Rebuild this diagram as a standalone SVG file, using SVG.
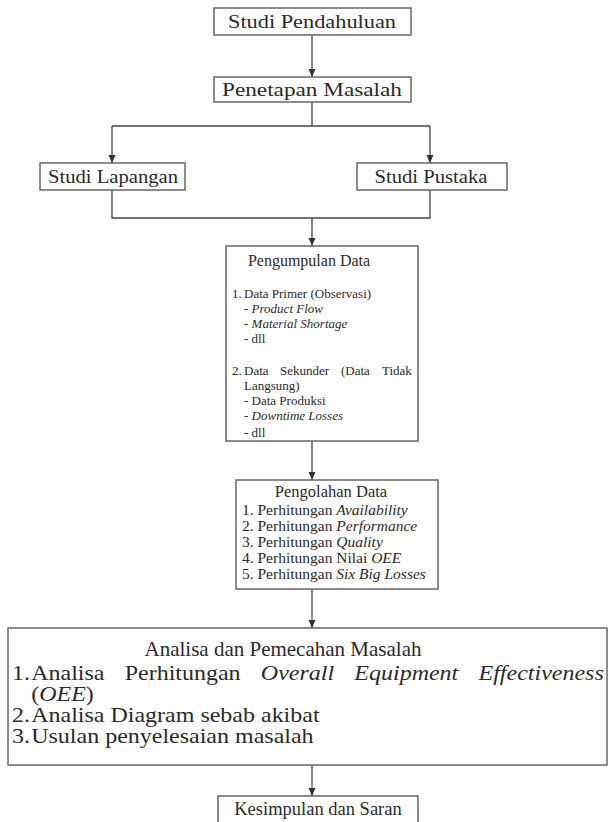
<svg xmlns="http://www.w3.org/2000/svg" width="608" height="822" viewBox="0 0 608 822">
<defs>
<marker id="ah" markerWidth="8" markerHeight="8" refX="8" refY="4" orient="auto" markerUnits="userSpaceOnUse">
<path d="M0,0.5 L8,4 L0,7.5 Z" fill="#333"/>
</marker>
<style>
.box{fill:#fff;stroke:#666;stroke-width:1.5}
.t{font-family:"Liberation Serif","Times New Roman",serif;fill:#2a2a2a}
.c{text-anchor:middle}
.i{font-style:italic}
.ln{fill:none;stroke:#444;stroke-width:1.3}
</style>
</defs>
<rect width="608" height="822" fill="#fff"/>
<g id="connectors">
<path class="ln" d="M312,35 V77" marker-end="url(#ah)"/>
<path class="ln" d="M312,102 V126 M112,126 H430"/>
<path class="ln" d="M112,126 V163" marker-end="url(#ah)"/>
<path class="ln" d="M430,126 V163" marker-end="url(#ah)"/>
<path class="ln" d="M112,190 V218 H430 V190"/>
<path class="ln" d="M312,218 V246" marker-end="url(#ah)"/>
<path class="ln" d="M312,441 V480" marker-end="url(#ah)"/>
<path class="ln" d="M312,589 V628" marker-end="url(#ah)"/>
<path class="ln" d="M312,765 V796" marker-end="url(#ah)"/>
</g>
<g id="n1">
<rect class="box" x="214" y="8" width="197" height="27"/>
<text class="t c" x="312" y="28" font-size="19" textLength="168" lengthAdjust="spacingAndGlyphs">Studi Pendahuluan</text>
</g>
<g id="n2">
<rect class="box" x="214" y="77" width="197" height="25"/>
<text class="t c" x="312" y="96" font-size="19" textLength="180" lengthAdjust="spacingAndGlyphs">Penetapan Masalah</text>
</g>
<g id="n3">
<rect class="box" x="40" y="163" width="145" height="27"/>
<text class="t c" x="113" y="183" font-size="19" textLength="130" lengthAdjust="spacingAndGlyphs">Studi Lapangan</text>
</g>
<g id="n4">
<rect class="box" x="357" y="163" width="150" height="27"/>
<text class="t c" x="431" y="183" font-size="19" textLength="113" lengthAdjust="spacingAndGlyphs">Studi Pustaka</text>
</g>
<g id="n5">
<rect class="box" x="226" y="246" width="192" height="195"/>
<g class="t" font-size="13">
<text x="309" y="266" class="c" font-size="16">Pengumpulan Data</text>
<text y="298"><tspan x="232">1.</tspan><tspan x="244">Data Primer (Observasi)</tspan></text>
<text x="244" y="313">- <tspan class="i">Product Flow</tspan></text>
<text x="244" y="328">- <tspan class="i">Material Shortage</tspan></text>
<text x="244" y="343">- dll</text>
<text y="375"><tspan x="232">2.</tspan><tspan x="244">Data</tspan><tspan x="280">Sekunder</tspan><tspan x="341">(Data</tspan><tspan x="382">Tidak</tspan></text>
<text x="244" y="390">Langsung)</text>
<text x="244" y="405">- Data Produksi</text>
<text x="244" y="420">- <tspan class="i">Downtime Losses</tspan></text>
<text x="244" y="437">- dll</text>
</g>
</g>
<g id="n6">
<rect class="box" x="236" y="480" width="202" height="109"/>
<g class="t" font-size="15.5">
<text x="331" y="497" class="c" font-size="16.5">Pengolahan Data</text>
<text x="242" y="515">1. Perhitungan <tspan class="i">Availability</tspan></text>
<text x="242" y="531">2. Perhitungan <tspan class="i">Performance</tspan></text>
<text x="242" y="547">3. Perhitungan <tspan class="i">Quality</tspan></text>
<text x="242" y="563">4. Perhitungan Nilai <tspan class="i">OEE</tspan></text>
<text x="242" y="579">5. Perhitungan <tspan class="i">Six Big Losses</tspan></text>
</g>
</g>
<g id="n7">
<rect class="box" x="8" y="628" width="599" height="137"/>
<text class="t c" x="283" y="656" font-size="21">Analisa dan Pemecahan Masalah</text>
<g class="t" font-size="20" transform="translate(12,0) scale(1.2,1) translate(-12,0)">
<text y="680"><tspan x="12">1.</tspan><tspan x="28">Analisa</tspan><tspan x="105.9">Perhitungan</tspan><tspan x="219.4" class="i">Overall</tspan><tspan x="297.3" class="i">Equipment</tspan><tspan x="400.8" class="i">Effectiveness</tspan></text>
<text x="28" y="701">(<tspan class="i">OEE</tspan>)</text>
<text y="722"><tspan x="12">2.</tspan><tspan x="28">Analisa Diagram sebab akibat</tspan></text>
<text y="743"><tspan x="12">3.</tspan><tspan x="28">Usulan penyelesaian masalah</tspan></text>
</g>
</g>
<g id="n8">
<rect class="box" x="218" y="796" width="200" height="30"/>
<text class="t c" x="318" y="815" font-size="18.5">Kesimpulan dan Saran</text>
</g>
</svg>
